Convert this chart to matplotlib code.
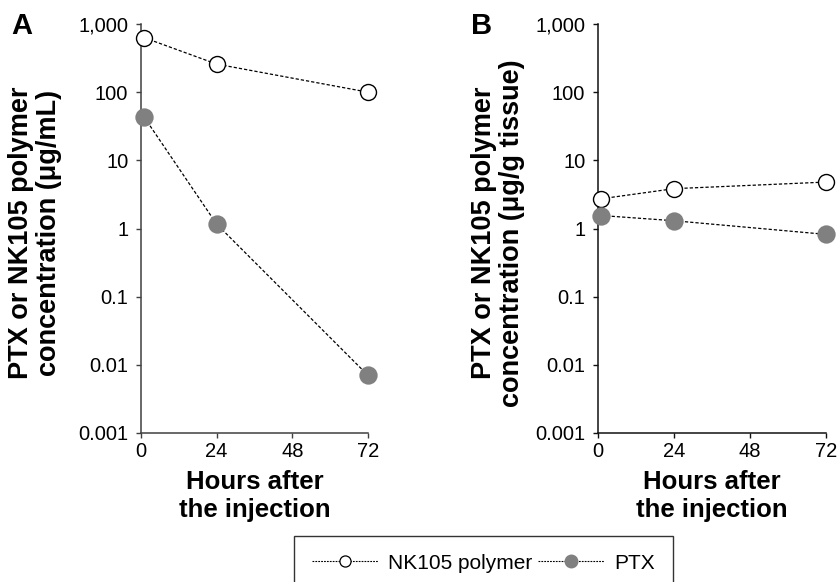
import matplotlib
matplotlib.use("Agg")
import matplotlib.pyplot as plt
from matplotlib.lines import Line2D

plt.rcParams['font.family'] = ['Liberation Sans', 'DejaVu Sans']

# Data
hours = [1, 24, 72]
nk105_plasma = [630, 258, 100]
ptx_plasma = [43, 1.16, 0.007]
nk105_tissue = [2.73, 3.84, 4.8]
ptx_tissue = [1.55, 1.3, 0.82]

xticks = [0, 24, 48, 72]
yticks = [0.001, 0.01, 0.1, 1, 10, 100, 1000]
ytick_labels = ["0.001", "0.01", "0.1", "1", "10", "100", "1,000"]

W, H = 838, 582
fig = plt.figure(figsize=(W / 100, H / 100), dpi=100)

def px_axes(left, right, top, bottom):
    return fig.add_axes([left / W, 1 - bottom / H, (right - left) / W, (bottom - top) / H])

axA = px_axes(141, 368, 24, 433)
axB = px_axes(598, 826, 24, 433)

dash = (0, (2.6, 1.6))
gray = '#808080'

for ax, nk, ptx, spcol in [(axA, nk105_plasma, ptx_plasma, '#404040'),
                           (axB, nk105_tissue, ptx_tissue, '#111111')]:
    ax.plot(hours, nk, linestyle=dash, color='black', lw=0.9, marker='o',
            markersize=11.5, markerfacecolor='white', markeredgecolor='black',
            markeredgewidth=1.0, clip_on=False, zorder=3)
    ax.plot(hours, ptx, linestyle=dash, color='black', lw=0.9, marker='o',
            markersize=13.2, markerfacecolor=gray, markeredgecolor=gray,
            markeredgewidth=0, clip_on=False, zorder=4)
    ax.set_yscale('log')
    ax.set_ylim(0.001, 1000)
    ax.set_xlim(0, 72)
    ax.set_yticks(yticks)
    ax.set_yticklabels(ytick_labels)
    ax.yaxis.set_minor_locator(matplotlib.ticker.NullLocator())
    ax.set_xticks(xticks)
    ax.set_xticklabels([str(t) for t in xticks])
    for s in ['top', 'right']:
        ax.spines[s].set_visible(False)
    for s in ['left', 'bottom']:
        ax.spines[s].set_color(spcol)
        ax.spines[s].set_linewidth(1.1)
    ax.tick_params(axis='both', direction='out', length=3.6, width=1.0,
                   colors=spcol, labelcolor='black', labelsize=14.5)
    ax.tick_params(axis='y', pad=5.5)
    ax.tick_params(axis='x', pad=3)
    ax.set_facecolor('none')

# Panel letters
fig.text(22 / W, 1 - 26 / H, "A", fontsize=21, fontweight='bold', ha='center', va='center')
fig.text(482 / W, 1 - 26 / H, "B", fontsize=21, fontweight='bold', ha='center', va='center')

# Y labels
fig.text(35 / W, 1 - 233 / H, "PTX or NK105 polymer\nconcentration (\u03bcg/mL)",
         rotation=90, fontsize=19.5, fontweight='bold', ha='center', va='center',
         linespacing=1.08)
fig.text(498 / W, 1 - 233 / H, "PTX or NK105 polymer\nconcentration (\u03bcg/g tissue)",
         rotation=90, fontsize=19.5, fontweight='bold', ha='center', va='center',
         linespacing=1.08)

# X labels
for cx in [(141 + 368) / 2, (598 + 826) / 2]:
    fig.text(cx / W, 1 - 496 / H, "Hours after\nthe injection", fontsize=18.5,
             fontweight='bold', ha='center', va='center', linespacing=1.25)

# Legend
h1 = Line2D([], [], linestyle=(0, (1.6, 1.0)), color='black', lw=0.8, marker='o',
            markersize=8, markerfacecolor='white', markeredgecolor='black', markeredgewidth=0.9)
h2 = Line2D([], [], linestyle=(0, (1.6, 1.0)), color='black', lw=0.8, marker='o',
            markersize=9, markerfacecolor=gray, markeredgecolor=gray)
leg = fig.legend([h1, h2], ["NK105 polymer", "PTX"], loc='upper center',
                 bbox_to_anchor=(483.5 / W, 1 - 536 / H), ncol=2, frameon=True,
                 fancybox=False, edgecolor='black', fontsize=15, handlelength=3.15,
                 handletextpad=0.5, columnspacing=0.3, borderpad=0.85, borderaxespad=0)
leg.get_frame().set_linewidth(1.0)

fig.savefig("out.png", dpi=100)
